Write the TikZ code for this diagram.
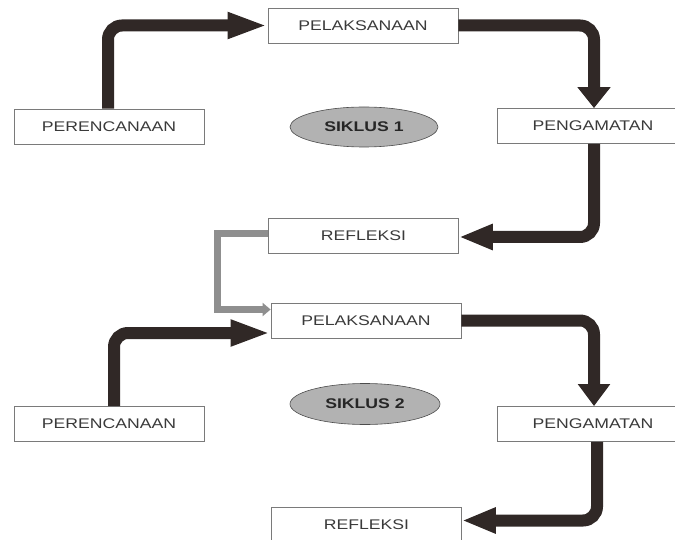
\documentclass[tikz,border=0pt]{standalone}
\usepackage{fontspec}
\setmainfont{Liberation Sans}[FakeStretch=1.26]
\usetikzlibrary{arrows.meta,shapes.geometric}
\definecolor{arrowc}{HTML}{302826}
\definecolor{grayc}{HTML}{8F8F8F}
\definecolor{boxc}{HTML}{7A7A7A}
\definecolor{textc}{HTML}{3A3A3A}
\begin{document}
\begin{tikzpicture}[x=1bp,y=-1bp,
  stagebox/.style={draw=boxc,line width=0.8bp,fill=white,minimum width=190bp,minimum height=35bp,
    inner sep=0pt,font=\fontsize{14bp}{16bp}\selectfont,text=textc},
  cyclebox/.style={ellipse,draw=black!70,line width=0.6bp,fill=black!30,minimum width=148bp,minimum height=40bp,
    inner sep=0pt,font=\fontsize{14bp}{16bp}\selectfont\bfseries,text=black!85},
  flow/.style={draw=arrowc,line width=12bp,rounded corners=14bp},
  backflow/.style={draw=grayc,line width=7bp},
]
\useasboundingbox (0,0) rectangle (675,540);
\node[stagebox] (P1) at (363,25.5) {PELAKSANAAN};
\node[stagebox] (R1) at (109,126.5) {PERENCANAAN};
\node[stagebox,minimum width=192bp] (G1) at (593,126) {PENGAMATAN};
\node[stagebox] (F1) at (363.5,235.5) {REFLEKSI};
\node[cyclebox] (E1) at (364,127) {SIKLUS 1};
\node[stagebox] (P2) at (366,320.5) {PELAKSANAAN};
\node[stagebox] (R2) at (109,424) {PERENCANAAN};
\node[stagebox,minimum width=192bp] (G2) at (593,424) {PENGAMATAN};
\node[stagebox] (F2) at (366.5,524.5) {REFLEKSI};
\node[cyclebox,minimum width=150bp,minimum height=41bp] (E2) at (365,404) {SIKLUS 2};
% cycle 1
\draw[flow,-{Triangle[length=40bp,width=24bp]}] ([xshift=-1bp]R1.north) |- (P1.west);
\draw[flow,-{Triangle[length=21bp,width=32bp]}] (P1.east) -| ([xshift=1bp]G1.north);
\draw[flow,-{Triangle[length=34bp,width=24bp]}] ([xshift=1bp]G1.south) |- ([yshift=-1.5bp]F1.east);
% transition
\draw[backflow,-{Triangle[length=8bp,width=13bp]}] ([yshift=2bp]F1.west) -- ++(-51,0) |- ([yshift=11bp]P2.west);
% cycle 2
\draw[flow,-{Triangle[length=40bp,width=24bp]}] ([xshift=5bp]R2.north) |- ([yshift=-12.5bp]P2.west);
\draw[flow,-{Triangle[length=22bp,width=31bp]}] (P2.east) -| ([xshift=1bp]G2.north);
\draw[flow,-{Triangle[length=34bp,width=24bp]}] ([xshift=4bp]G2.south) |- ([yshift=4bp]F2.east);
\end{tikzpicture}
\end{document}
